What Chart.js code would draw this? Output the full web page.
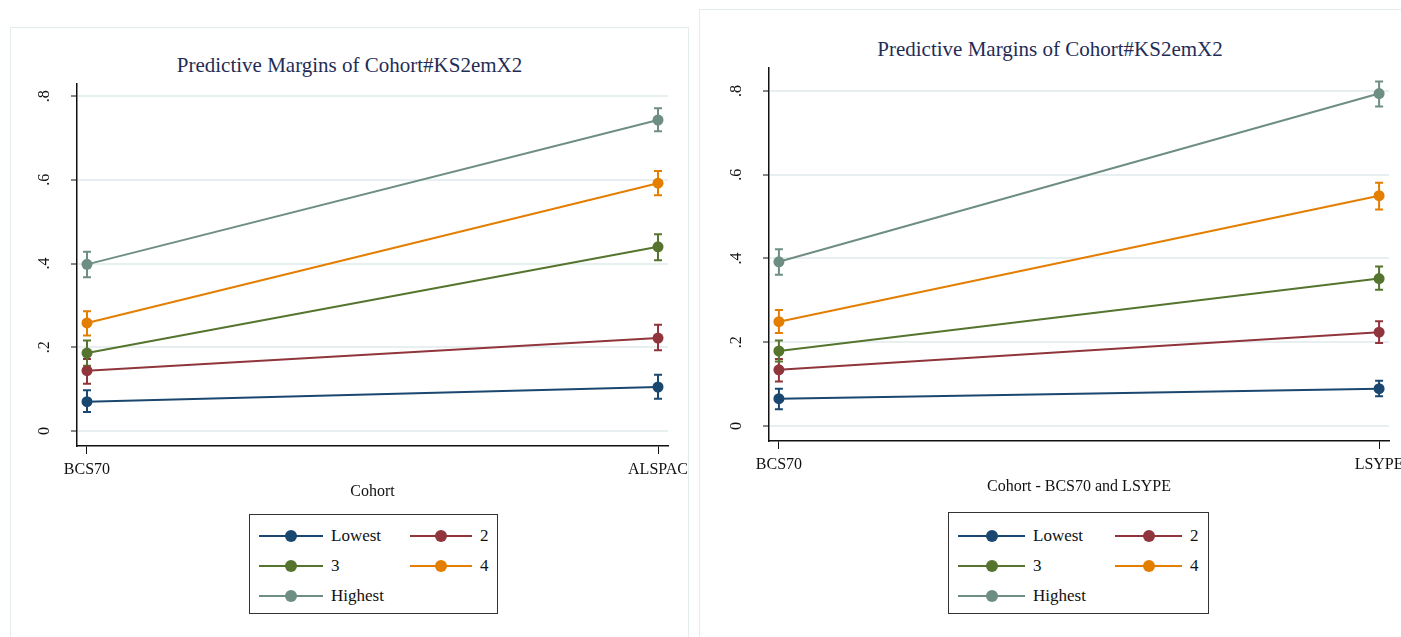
<!DOCTYPE html>
<html>
<head>
<meta charset="utf-8">
<script src="https://cdn.jsdelivr.net/npm/chart.js@4.4.0/dist/chart.umd.min.js"></script>
<style>
  html, body { margin: 0; padding: 0; background: #fff; }
  body { width: 1401px; height: 637px; position: relative; overflow: hidden;
         font-family: "Liberation Serif", "DejaVu Serif", serif; }
  .panel { position: absolute; border: 1px solid #e4ecec; box-sizing: border-box; }
  .chartbox { position: absolute; }
  .titulo { position: absolute; text-align: center; color: #1f2d56; font-size: 21px; white-space: nowrap; }
  .legenda { position: absolute; border: 1px solid #333; box-sizing: border-box; background: #fff;
             display: grid; align-items: center; align-content: start; font-size: 17px; color: #111; }
  .simb { position: relative; height: 12px; }
  .simb .linha { position: absolute; left: 0; right: 0; top: 5px; height: 2px; }
  .simb .ponto { position: absolute; top: 0; width: 12px; height: 12px; border-radius: 50%; margin-left: -6px; }
</style>
</head>
<body>
<div class="panel" style="left:10px; top:27px; width:679px; height:620px;"></div>
<div class="panel" style="left:699px; top:9px; width:710px; height:640px;"></div>

<div class="titulo" style="left:10px; width:679px; top:53px;">Predictive Margins of Cohort#KS2emX2</div>
<div class="titulo" style="left:699px; width:702px; top:37px;">Predictive Margins of Cohort#KS2emX2</div>

<div class="chartbox" style="left:10px; top:25px; width:700px; height:611px;"><canvas id="graficoALSPAC"></canvas></div>
<div class="chartbox" style="left:697px; top:9px; width:740px; height:628px;"><canvas id="graficoLSYPE"></canvas></div>

<div class="legenda" id="legendaA" style="left:249px; top:514px; width:249px; height:100px;"></div>
<div class="legenda" id="legendaB" style="left:948px; top:512px; width:261px; height:102px;"></div>

<script>
// Dados
const grupos = ['Lowest', '2', '3', '4', 'Highest'];
const cores = ['#1a476f', '#90353b', '#55752f', '#e37e00', '#6e8e84'];
const yTicks = [0, 0.2, 0.4, 0.6, 0.8];
const yTickLabels = ['0', '.2', '.4', '.6', '.8'];

// Gráfico da esquerda: BCS70 x ALSPAC
const cohortsA = ['BCS70', 'ALSPAC'];
const lowestA = [0.070, 0.105];
const lowestA_lo = [0.045, 0.077];
const lowestA_hi = [0.097, 0.134];
const q2A = [0.144, 0.222];
const q2A_lo = [0.113, 0.193];
const q2A_hi = [0.172, 0.254];
const q3A = [0.186, 0.440];
const q3A_lo = [0.156, 0.408];
const q3A_hi = [0.216, 0.470];
const q4A = [0.258, 0.592];
const q4A_lo = [0.228, 0.563];
const q4A_hi = [0.286, 0.621];
const highestA = [0.398, 0.743];
const highestA_lo = [0.367, 0.716];
const highestA_hi = [0.428, 0.771];

// Gráfico da direita: BCS70 x LSYPE
const cohortsB = ['BCS70', 'LSYPE'];
const lowestB = [0.065, 0.089];
const lowestB_lo = [0.040, 0.071];
const lowestB_hi = [0.089, 0.108];
const q2B = [0.134, 0.224];
const q2B_lo = [0.106, 0.198];
const q2B_hi = [0.160, 0.250];
const q3B = [0.179, 0.352];
const q3B_lo = [0.154, 0.325];
const q3B_hi = [0.204, 0.381];
const q4B = [0.249, 0.550];
const q4B_lo = [0.222, 0.517];
const q4B_hi = [0.277, 0.581];
const highestB = [0.392, 0.794];
const highestB_lo = [0.361, 0.763];
const highestB_hi = [0.422, 0.823];

// Plugin: barras de intervalo de confiança (desenhadas antes dos pontos)
const barrasErro = {
    id: 'barrasErro',
    beforeDatasetsDraw(chart) {
        const ctx = chart.ctx;
        const xs = chart.scales.x, ys = chart.scales.y;
        chart.data.datasets.forEach(ds => {
            ctx.save();
            ctx.strokeStyle = ds.borderColor;
            ctx.lineWidth = 2;
            ds.data.forEach((p, i) => {
                const x = xs.getPixelForValue(p.x);
                const yLo = ys.getPixelForValue(ds.ciLo[i]);
                const yHi = ys.getPixelForValue(ds.ciHi[i]);
                ctx.beginPath();
                ctx.moveTo(x, yLo); ctx.lineTo(x, yHi);
                ctx.moveTo(x - 4, yLo); ctx.lineTo(x + 4, yLo);
                ctx.moveTo(x - 4, yHi); ctx.lineTo(x + 4, yHi);
                ctx.stroke();
            });
            ctx.restore();
        });
    }
};

// Plugin: rótulos do eixo y na vertical (estilo Stata)
const rotulosY = {
    id: 'rotulosY',
    afterDraw(chart) {
        const ctx = chart.ctx;
        const ys = chart.scales.y;
        ctx.save();
        ctx.font = '16px "Liberation Serif", serif';
        ctx.fillStyle = '#111';
        ctx.textAlign = 'center';
        ctx.textBaseline = 'middle';
        yTicks.forEach((v, i) => {
            const y = ys.getPixelForValue(v);
            ctx.save();
            ctx.translate(chart.chartArea.left - 32, y);
            ctx.rotate(-Math.PI / 2);
            ctx.fillText(yTickLabels[i], 0, 0);
            ctx.restore();
        });
        ctx.restore();
    }
};

function montarDatasets(series, lo, hi) {
    return series.map((vals, k) => ({
        label: grupos[k],
        data: vals.map((v, i) => ({ x: i, y: v })),
        ciLo: lo[k],
        ciHi: hi[k],
        borderColor: cores[k],
        backgroundColor: cores[k],
        borderWidth: 2,
        pointRadius: 5.5,
        pointBorderWidth: 0,
        pointHoverRadius: 5.5,
        tension: 0
    }));
}

function criarGrafico(id, cohorts, datasets, cfg) {
    const ctx = document.getElementById(id).getContext('2d');
    return new Chart(ctx, {
        type: 'line',
        data: { datasets: datasets },
        options: {
            responsive: true,
            maintainAspectRatio: false,
            animation: false,
            events: [],
            layout: { padding: { top: 59, right: cfg.padRight, bottom: cfg.padBottom, left: 0 } },
            scales: {
                x: {
                    type: 'linear',
                    min: cfg.xMin,
                    max: cfg.xMax,
                    afterBuildTicks: (s) => { s.ticks = cohorts.map((c, i) => ({ value: i })); },
                    afterFit: (s) => { s.height = 55; },
                    ticks: {
                        autoSkip: false,
                        maxRotation: 0,
                        padding: 6,
                        color: '#111',
                        font: { family: '"Liberation Serif", serif', size: 16 },
                        callback: (v) => cohorts[v]
                    },
                    grid: { drawOnChartArea: false, tickLength: 8, tickColor: '#111', tickWidth: 1 },
                    border: { color: '#111', width: 1.5 },
                    title: {
                        display: true,
                        text: cfg.xTitle,
                        color: '#111',
                        padding: 0,
                        font: { family: '"Liberation Serif", serif', size: 16 }
                    }
                },
                y: {
                    min: cfg.yMin,
                    max: cfg.yMax,
                    afterBuildTicks: (s) => { s.ticks = yTicks.map(v => ({ value: v })); },
                    afterFit: (s) => { s.width = cfg.yWidth; },
                    ticks: { display: false },
                    grid: { color: '#e8eff1', lineWidth: 2, tickLength: 6, tickColor: '#111', tickWidth: 1 },
                    border: { color: '#111', width: 1.5 }
                }
            },
            plugins: {
                legend: { display: false },
                title: { display: false },
                tooltip: { enabled: false }
            }
        },
        plugins: [barrasErro, rotulosY]
    });
}

function montarLegenda(id, colunas, padTop) {
    const el = document.getElementById(id);
    el.style.gridTemplateColumns = colunas;
    el.style.columnGap = '8px';
    el.style.gridAutoRows = '30px';
    el.style.paddingTop = padTop + 'px';
    el.style.paddingLeft = '9px';
    grupos.forEach((g, k) => {
        const simb = document.createElement('div');
        simb.className = 'simb';
        simb.innerHTML = '<div class="linha" style="background:' + cores[k] + '"></div>' +
                         '<div class="ponto" style="left:50%; background:' + cores[k] + '"></div>';
        const txt = document.createElement('div');
        txt.textContent = g;
        el.appendChild(simb);
        el.appendChild(txt);
    });
}

document.addEventListener('DOMContentLoaded', () => {
    criarGrafico('graficoALSPAC', cohortsA,
        montarDatasets([lowestA, q2A, q3A, q4A, highestA],
                       [lowestA_lo, q2A_lo, q3A_lo, q4A_lo, highestA_lo],
                       [lowestA_hi, q2A_hi, q3A_hi, q4A_hi, highestA_hi]),
        { xTitle: 'Cohort', xMin: -0.0175, xMax: 1.0175, yMin: -0.036, yMax: 0.829,
          yWidth: 67, padRight: 42, padBottom: 135 });

    criarGrafico('graficoLSYPE', cohortsB,
        montarDatasets([lowestB, q2B, q3B, q4B, highestB],
                       [lowestB_lo, q2B_lo, q3B_lo, q4B_lo, highestB_lo],
                       [lowestB_hi, q2B_hi, q3B_hi, q4B_hi, highestB_hi]),
        { xTitle: 'Cohort - BCS70 and LSYPE', xMin: -0.0165, xMax: 1.0165, yMin: -0.036, yMax: 0.855,
          yWidth: 72, padRight: 48, padBottom: 141 });

    montarLegenda('legendaA', '64px 71px 62px auto', 6);
    montarLegenda('legendaB', '67px 74px 67px auto', 8);
});
</script>
</body>
</html>
